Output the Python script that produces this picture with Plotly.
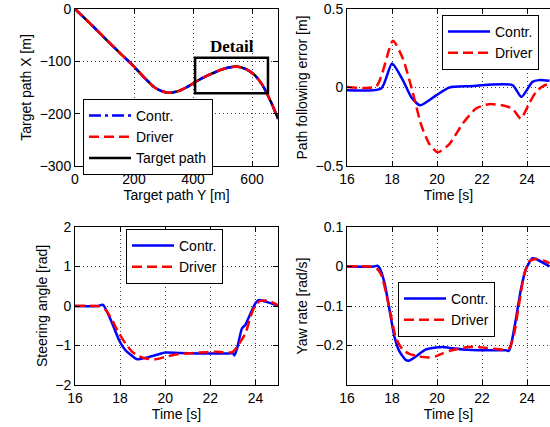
import plotly.graph_objects as go

# ---------------- data ----------------
# Top-left: path (Y, X)
path_y = [0, 50, 100, 150, 200, 240, 270, 300, 322, 350, 380, 412, 450, 500, 546, 580, 610, 635, 650, 670, 688]
path_x = [0, -27, -55, -83, -110, -134, -150, -158, -160, -157, -149, -138, -127, -115, -110, -115, -127, -145, -161, -185, -210]

# Top-right: path following error
err_c_t = [16, 17.52, 18.0, 18.48, 18.85, 19.25, 19.96, 20.55, 21.4, 23.35, 23.75, 24.24, 24.53, 25.0]
err_c_v = [-0.017, -0.006, 0.153, 0.047, -0.06, -0.113, -0.05, 0.0, 0.008, 0.015, -0.06, 0.036, 0.047, 0.043]
err_d_t = [16, 17.3, 18.04, 18.48, 18.92, 19.3, 19.66, 20.03, 20.55, 21.14, 21.73, 22.3, 22.9, 23.35, 23.72, 24.1, 24.4, 24.7, 25.0]
err_d_v = [0.004, 0.008, 0.298, 0.185, -0.03, -0.24, -0.36, -0.413, -0.36, -0.23, -0.134, -0.106, -0.113, -0.134, -0.198, -0.1, -0.028, 0.008, 0.025]

# Bottom-left: steering angle
st_c_t = [16, 17.0, 17.24, 17.65, 17.95, 18.24, 18.69, 18.83, 19.28, 19.72, 20.0, 20.6, 21.5, 22.8, 23.0, 23.07, 23.19, 23.4, 23.55, 23.78, 24.0, 24.15, 24.45, 25.0]
st_c_v = [0, 0, 0.03, -0.44, -0.86, -1.12, -1.33, -1.35, -1.29, -1.22, -1.18, -1.19, -1.2, -1.2, -1.19, -1.25, -1.07, -0.57, -0.48, -0.19, 0.07, 0.15, 0.11, 0.01]
st_d_t = [16, 17.06, 17.36, 17.65, 17.95, 18.24, 18.54, 18.83, 19.13, 19.57, 20.0, 20.46, 20.9, 21.5, 22.23, 22.82, 22.97, 23.19, 23.56, 23.78, 24.0, 24.22, 24.6, 25.0]
st_d_v = [0, -0.01, -0.1, -0.36, -0.69, -0.95, -1.16, -1.27, -1.33, -1.35, -1.29, -1.23, -1.2, -1.18, -1.16, -1.18, -1.17, -1.03, -0.69, -0.27, 0.03, 0.13, 0.13, 0.02]

# Bottom-right: yaw rate
yr_c_t = [16, 17.2, 17.35, 17.45, 17.67, 17.89, 18.11, 18.33, 18.62, 18.77, 19.06, 19.51, 19.96, 20.25, 20.69, 21.15, 22.18, 23.06, 23.18, 23.27, 23.5, 23.72, 23.94, 24.24, 24.4, 25.0]
yr_c_v = [0, 0, 0.002, -0.004, -0.042, -0.11, -0.178, -0.215, -0.237, -0.238, -0.228, -0.21, -0.205, -0.204, -0.207, -0.21, -0.212, -0.212, -0.214, -0.203, -0.135, -0.06, -0.008, 0.021, 0.019, 0.0]
yr_d_t = [16, 17.0, 17.3, 17.52, 17.74, 17.96, 18.18, 18.48, 18.77, 19.21, 19.66, 19.96, 20.25, 20.55, 21.14, 21.58, 22.18, 22.92, 23.21, 23.43, 23.65, 23.87, 24.09, 24.4, 24.84, 25.0]
yr_d_v = [0, 0, -0.004, -0.021, -0.068, -0.127, -0.182, -0.211, -0.221, -0.228, -0.23, -0.227, -0.22, -0.214, -0.206, -0.203, -0.206, -0.21, -0.207, -0.169, -0.093, -0.021, 0.013, 0.019, 0.013, 0.008]

# Detail box (Y, X)
detail_y = [407, 654]
detail_x = [-93, -161]

# ---------------- figure ----------------
FONT = "Liberation Sans, Arial, sans-serif"
FS = 14
BLUE = "#0000ff"
RED = "#ff0000"
LW = 2.5
RED_DASH = "10px,5px"
BLUE_DASHDOT = "12px,4px,3px,4px"

fig = go.Figure()

def add(x, y, xa, ya, name, color, dash, legend, rank, shape="spline"):
    fig.add_trace(go.Scatter(
        x=x, y=y, xaxis=xa, yaxis=ya, mode="lines", name=name,
        line=dict(color=color, width=LW, dash=dash, shape=shape, smoothing=0.6),
        legend=legend, legendrank=rank))

# top-left
add(path_y, path_x, "x", "y", "Target path", "black", "solid", "legend", 3)
add(path_y, path_x, "x", "y", "Contr.", BLUE, BLUE_DASHDOT, "legend", 1)
add(path_y, path_x, "x", "y", "Driver", RED, RED_DASH, "legend", 2)
# top-right
add(err_c_t, err_c_v, "x2", "y2", "Contr.", BLUE, "solid", "legend2", 1)
add(err_d_t, err_d_v, "x2", "y2", "Driver", RED, RED_DASH, "legend2", 2)
# bottom-left
add(st_c_t, st_c_v, "x3", "y3", "Contr.", BLUE, "solid", "legend3", 1)
add(st_d_t, st_d_v, "x3", "y3", "Driver", RED, RED_DASH, "legend3", 2)
# bottom-right
add(yr_c_t, yr_c_v, "x4", "y4", "Contr.", BLUE, "solid", "legend4", 1)
add(yr_d_t, yr_d_v, "x4", "y4", "Driver", RED, RED_DASH, "legend4", 2)

W, H = 550, 427
def px_x(a, b):
    return [a / W, min(b / W, 1.0)]
def px_y(top, bottom):
    return [1 - bottom / H, 1 - top / H]

GRID = dict(showgrid=True, gridcolor="rgba(0,0,0,0.75)", gridwidth=1, griddash="1px,3px",
            zeroline=False, showline=True, linecolor="black", linewidth=1,
            ticks="inside", ticklen=5, tickcolor="black", tickwidth=1, automargin=False,
            tickfont=dict(family=FONT, size=FS, color="black"),
            title_font=dict(family=FONT, size=FS, color="black"))

def xa(domain, anchor, rng, tickvals, title, mirror=True):
    d = dict(GRID)
    d.update(domain=domain, anchor=anchor, range=rng, tickvals=tickvals,
             title=dict(text=title, standoff=2), mirror="ticks" if mirror else False)
    return d

def ya(domain, anchor, rng, tickvals, title, mirror=True, ticktext=None):
    d = dict(GRID)
    d.update(domain=domain, anchor=anchor, range=rng, tickvals=tickvals,
             title=dict(text=title, standoff=4), mirror="ticks" if mirror else False)
    if ticktext is not None:
        d["ticktext"] = ticktext
    return d

LX = px_x(75, 278)
RX = px_x(347, 550)
TY = px_y(9, 166)
BY = px_y(227, 385)

fig.update_layout(
    width=W, height=H,
    margin=dict(l=0, r=0, t=0, b=0, autoexpand=False),
    paper_bgcolor="white", plot_bgcolor="white",
    font=dict(family=FONT, size=FS, color="black"),
    xaxis=xa(LX, "y", [0, 688], [0, 200, 400, 600], "Target path Y [m]"),
    yaxis=ya(TY, "x", [-300, 0], [-300, -200, -100, 0], "Target path X [m]"),
    xaxis2=xa(RX, "y2", [16, 25.02], [16, 18, 20, 22, 24], "Time [s]"),
    yaxis2=ya(TY, "x2", [-0.5, 0.5], [-0.5, 0, 0.5], "Path following error [m]", mirror=False),
    xaxis3=xa(LX, "y3", [16, 25], [16, 18, 20, 22, 24], "Time [s]"),
    yaxis3=ya(BY, "x3", [-2, 2], [-2, -1, 0, 1, 2], "Steering angle [rad]"),
    xaxis4=xa(RX, "y4", [16, 25.02], [16, 18, 20, 22, 24], "Time [s]"),
    yaxis4=ya(BY, "x4", [-0.3, 0.1], [-0.3, -0.2, -0.1, 0, 0.1], "Yaw rate [rad/s]", mirror=False,
              ticktext=["", "\u22120.2", "\u22120.1", "0", "0.1"]),
)

leg_common = dict(bgcolor="white", bordercolor="black", borderwidth=1,
                  font=dict(family=FONT, size=FS, color="black"),
                  xanchor="left", yanchor="top", tracegroupgap=0, itemwidth=42)
fig.update_layout(
    legend=dict(leg_common, x=83 / W, y=1 - 99 / H),
    legend2=dict(leg_common, x=442 / W, y=1 - 15 / H),
    legend3=dict(leg_common, x=126 / W, y=1 - 229 / H),
    legend4=dict(leg_common, x=398 / W, y=1 - 282 / H),
)

# Detail box and label
fig.add_shape(type="rect", xref="x", yref="y", x0=detail_y[0], x1=detail_y[1],
              y0=detail_x[0], y1=detail_x[1], line=dict(color="black", width=2.5))
fig.add_annotation(xref="x", yref="y", x=(detail_y[0] + detail_y[1]) / 2, y=detail_x[0],
                   yanchor="bottom", text="<b>Detail</b>", showarrow=False,
                   font=dict(family="Liberation Serif, Times New Roman, serif", size=17, color="black"))

fig.write_html("out.html", config={"displayModeBar": False},
               post_script="document.body.style.margin='0';document.body.style.overflow='hidden';")
